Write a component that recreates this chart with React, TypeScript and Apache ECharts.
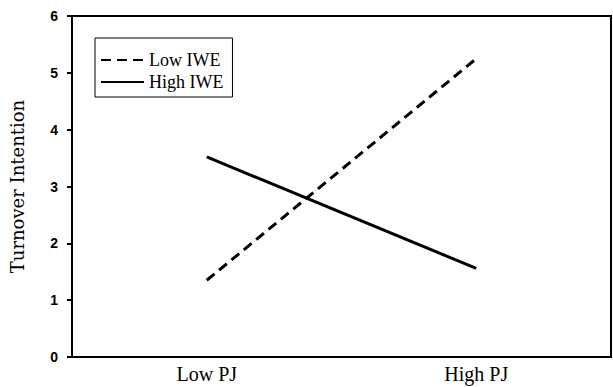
import React, { useEffect, useRef } from "react";
import * as echarts from "echarts";

const categories = ["Low PJ", "High PJ"];
const lowIWE = [1.35, 5.25];
const highIWE = [3.52, 1.56];
const yTicks = { min: 0, max: 6, interval: 1 };
const yAxisName = "Turnover Intention";
const seriesNames = ["Low IWE", "High IWE"];

export default function App() {
  const ref = useRef<HTMLDivElement>(null);
  useEffect(() => {
    document.body.style.margin = "0";
    if (!ref.current) return;
    const chart = echarts.init(ref.current, undefined, { renderer: "svg" });
    chart.setOption({
      animation: false,
      backgroundColor: "#ffffff",
      grid: {
        left: 63,
        right: 2,
        top: 16,
        bottom: 30,
        show: true,
        borderColor: "#000",
        borderWidth: 2,
        backgroundColor: "transparent",
      },
      legend: {
        orient: "vertical",
        left: 95,
        top: 38,
        padding: [13, 9, 6, 5],
        itemGap: 4,
        itemWidth: 43,
        itemHeight: 14,
        borderColor: "#000",
        borderWidth: 1,
        backgroundColor: "#fff",
        itemStyle: { opacity: 0 },
        textStyle: {
          fontFamily: "Liberation Serif",
          fontSize: 18,
          color: "#000",
        },
        data: seriesNames,
      },
      xAxis: {
        type: "category",
        data: categories,
        boundaryGap: true,
        axisLine: { lineStyle: { color: "#000", width: 2 } },
        axisTick: { show: false },
        axisLabel: {
          fontFamily: "Liberation Serif",
          fontSize: 20,
          color: "#000",
          margin: 7,
        },
      },
      yAxis: {
        type: "value",
        min: yTicks.min,
        max: yTicks.max,
        interval: yTicks.interval,
        name: yAxisName,
        nameLocation: "middle",
        nameRotate: 90,
        nameGap: 46,
        nameTextStyle: {
          fontFamily: "DejaVu Serif",
          fontSize: 18,
          color: "#000",
        },
        axisLine: { show: true, lineStyle: { color: "#000", width: 2 } },
        axisTick: { show: true, length: 5, lineStyle: { color: "#000", width: 2 } },
        splitLine: { show: false },
        axisLabel: {
          fontFamily: "Liberation Sans",
          fontWeight: "bold",
          fontSize: 14,
          color: "#000",
          margin: 14,
        },
      },
      series: [
        {
          name: seriesNames[0],
          type: "line",
          data: lowIWE,
          symbol: "none",
          lineStyle: { color: "#000", width: 3, type: [10, 6] },
          itemStyle: { color: "#000" },
        },
        {
          name: seriesNames[1],
          type: "line",
          data: highIWE,
          symbol: "none",
          lineStyle: { color: "#000", width: 3, type: "solid" },
          itemStyle: { color: "#000" },
        },
      ],
    });
    return () => chart.dispose();
  }, []);
  return <div ref={ref} style={{ width: 613, height: 387 }} />;
}
